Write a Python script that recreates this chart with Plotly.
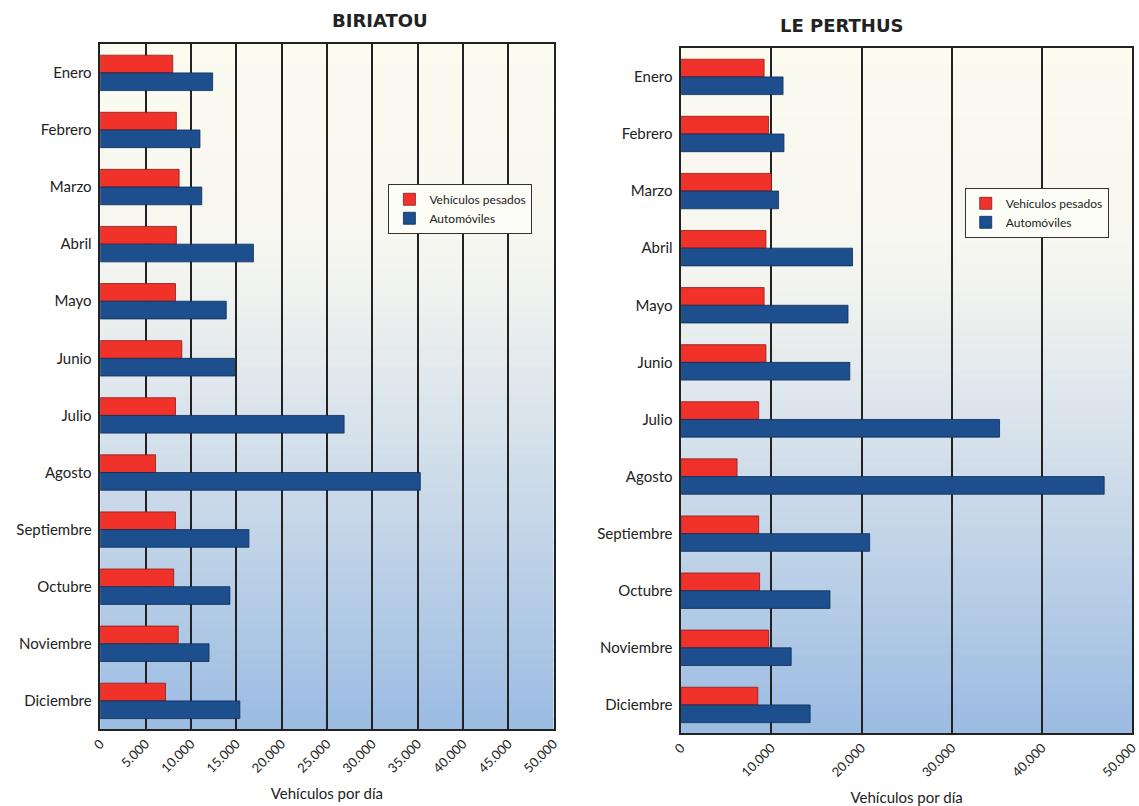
import plotly.graph_objects as go

meses = ["Enero", "Febrero", "Marzo", "Abril", "Mayo", "Junio", "Julio",
         "Agosto", "Septiembre", "Octubre", "Noviembre", "Diciembre"]

biriatou_pesados = [8000, 8400, 8700, 8400, 8300, 9000, 8300, 6100, 8300, 8100, 8600, 7200]
biriatou_autos = [12400, 11000, 11200, 16900, 13900, 14800, 26900, 35300, 16400, 14300, 12000, 15400]

perthus_pesados = [9200, 9700, 10000, 9400, 9200, 9400, 8600, 6200, 8600, 8700, 9700, 8500]
perthus_autos = [11300, 11400, 10800, 19000, 18500, 18700, 35300, 46900, 20900, 16500, 12200, 14300]

ticks_left = [0, 5000, 10000, 15000, 20000, 25000, 30000, 35000, 40000, 45000, 50000]
ticks_right = [0, 10000, 20000, 30000, 40000, 50000]

def fmt(v):
    return f"{v:,}".replace(",", ".")

RED = "#f0322a"
BLUE = "#1d4f8e"
FONT = "Lato, 'Open Sans', sans-serif"

fig = go.Figure()

fig.add_trace(go.Bar(y=meses, x=biriatou_pesados, orientation="h", name="Vehículos pesados",
                     marker=dict(color=RED, line=dict(color="#8a1a14", width=0.8)),
                     xaxis="x", yaxis="y", legend="legend"))
fig.add_trace(go.Bar(y=meses, x=biriatou_autos, orientation="h", name="Automóviles",
                     marker=dict(color=BLUE, line=dict(color="#0f2c55", width=0.8)),
                     xaxis="x", yaxis="y", legend="legend"))
fig.add_trace(go.Bar(y=meses, x=perthus_pesados, orientation="h", name="Vehículos pesados",
                     marker=dict(color=RED, line=dict(color="#8a1a14", width=0.8)),
                     xaxis="x2", yaxis="y2", legend="legend2"))
fig.add_trace(go.Bar(y=meses, x=perthus_autos, orientation="h", name="Automóviles",
                     marker=dict(color=BLUE, line=dict(color="#0f2c55", width=0.8)),
                     xaxis="x2", yaxis="y2", legend="legend2"))

# gradient background bands
def lerp(c1, c2, t):
    return tuple(int(round(a + (b - a) * t)) for a, b in zip(c1, c2))

top = (252, 251, 240)
mid = (236, 239, 240)
bot = (155, 187, 226)
shapes = []
N = 70
for xr, yr in (("x domain", "y domain"), ("x2 domain", "y2 domain")):
    for i in range(N):
        t = (i + 0.5) / N  # 0 top -> 1 bottom
        if t < 0.3:
            c = lerp(top, mid, t / 0.3 * 0.4)
        else:
            c0 = lerp(top, mid, 0.4)
            c = lerp(c0, bot, ((t - 0.3) / 0.7) ** 1.1)
        shapes.append(dict(type="rect", xref=xr, yref=yr, x0=0, x1=1,
                           y0=1 - (i + 1) / N, y1=1 - i / N + 0.002,
                           fillcolor=f"rgb{c}", line=dict(width=0), layer="below"))
fig.update_layout(shapes=shapes)

axis_common = dict(showline=True, linecolor="#222", linewidth=1.5, mirror=True,
                   showgrid=True, gridcolor="#222", gridwidth=1.5, zeroline=False,
                   automargin=False, ticklabeloverflow="allow",
                   tickangle=-45, tickfont=dict(family=FONT, size=13, color="#222"),
                   ticks="", title=dict(text="Vehículos por día",
                                        font=dict(family=FONT, size=15, color="#222"),
                                        standoff=14))
yaxis_common = dict(autorange="reversed", showline=True, linecolor="#222", linewidth=1.5,
                    mirror=True, automargin=False,
                    tickfont=dict(family=FONT, size=15, color="#222"), ticks="", ticksuffix=" ")

fig.update_layout(
    width=1139, height=806,
    margin=dict(l=0, r=0, t=0, b=0),
    paper_bgcolor="white",
    plot_bgcolor="rgba(0,0,0,0)",
    barmode="group",
    bargap=0.38,
    bargroupgap=0.0,
    xaxis=dict(domain=[0.088, 0.486], range=[0, 50000], tickvals=ticks_left,
               ticktext=[fmt(v) for v in ticks_left], anchor="y", **axis_common),
    yaxis=dict(domain=[0.095, 0.945], anchor="x", **yaxis_common),
    xaxis2=dict(domain=[0.598, 0.994], range=[0, 50000], tickvals=ticks_right,
                ticktext=[fmt(v) for v in ticks_right], anchor="y2", **axis_common),
    yaxis2=dict(domain=[0.09, 0.94], anchor="x2", **yaxis_common),
    legend=dict(x=0.341, y=0.772, xanchor="left", yanchor="top",
                bgcolor="#fdfdf8", bordercolor="#333", borderwidth=1,
                font=dict(family=FONT, size=12, color="#222"), tracegroupgap=0,
                itemwidth=30),
    legend2=dict(x=0.847, y=0.767, xanchor="left", yanchor="top",
                 bgcolor="#fdfdf8", bordercolor="#333", borderwidth=1,
                 font=dict(family=FONT, size=12, color="#222"), tracegroupgap=0,
                 itemwidth=30),
    annotations=[
        dict(text="<b>BIRIATOU</b>", x=0.29, y=1 - 20 / 806, xref="paper", yref="paper",
             yanchor="middle", showarrow=False,
             font=dict(family="'DejaVu Sans', sans-serif", size=18, color="#222")),
        dict(text="<b>LE PERTHUS</b>", x=0.795, y=1 - 25 / 806, xref="paper", yref="paper",
             yanchor="middle", showarrow=False,
             font=dict(family="'DejaVu Sans', sans-serif", size=18, color="#222")),
    ],
)

fig.write_html("out.html")
